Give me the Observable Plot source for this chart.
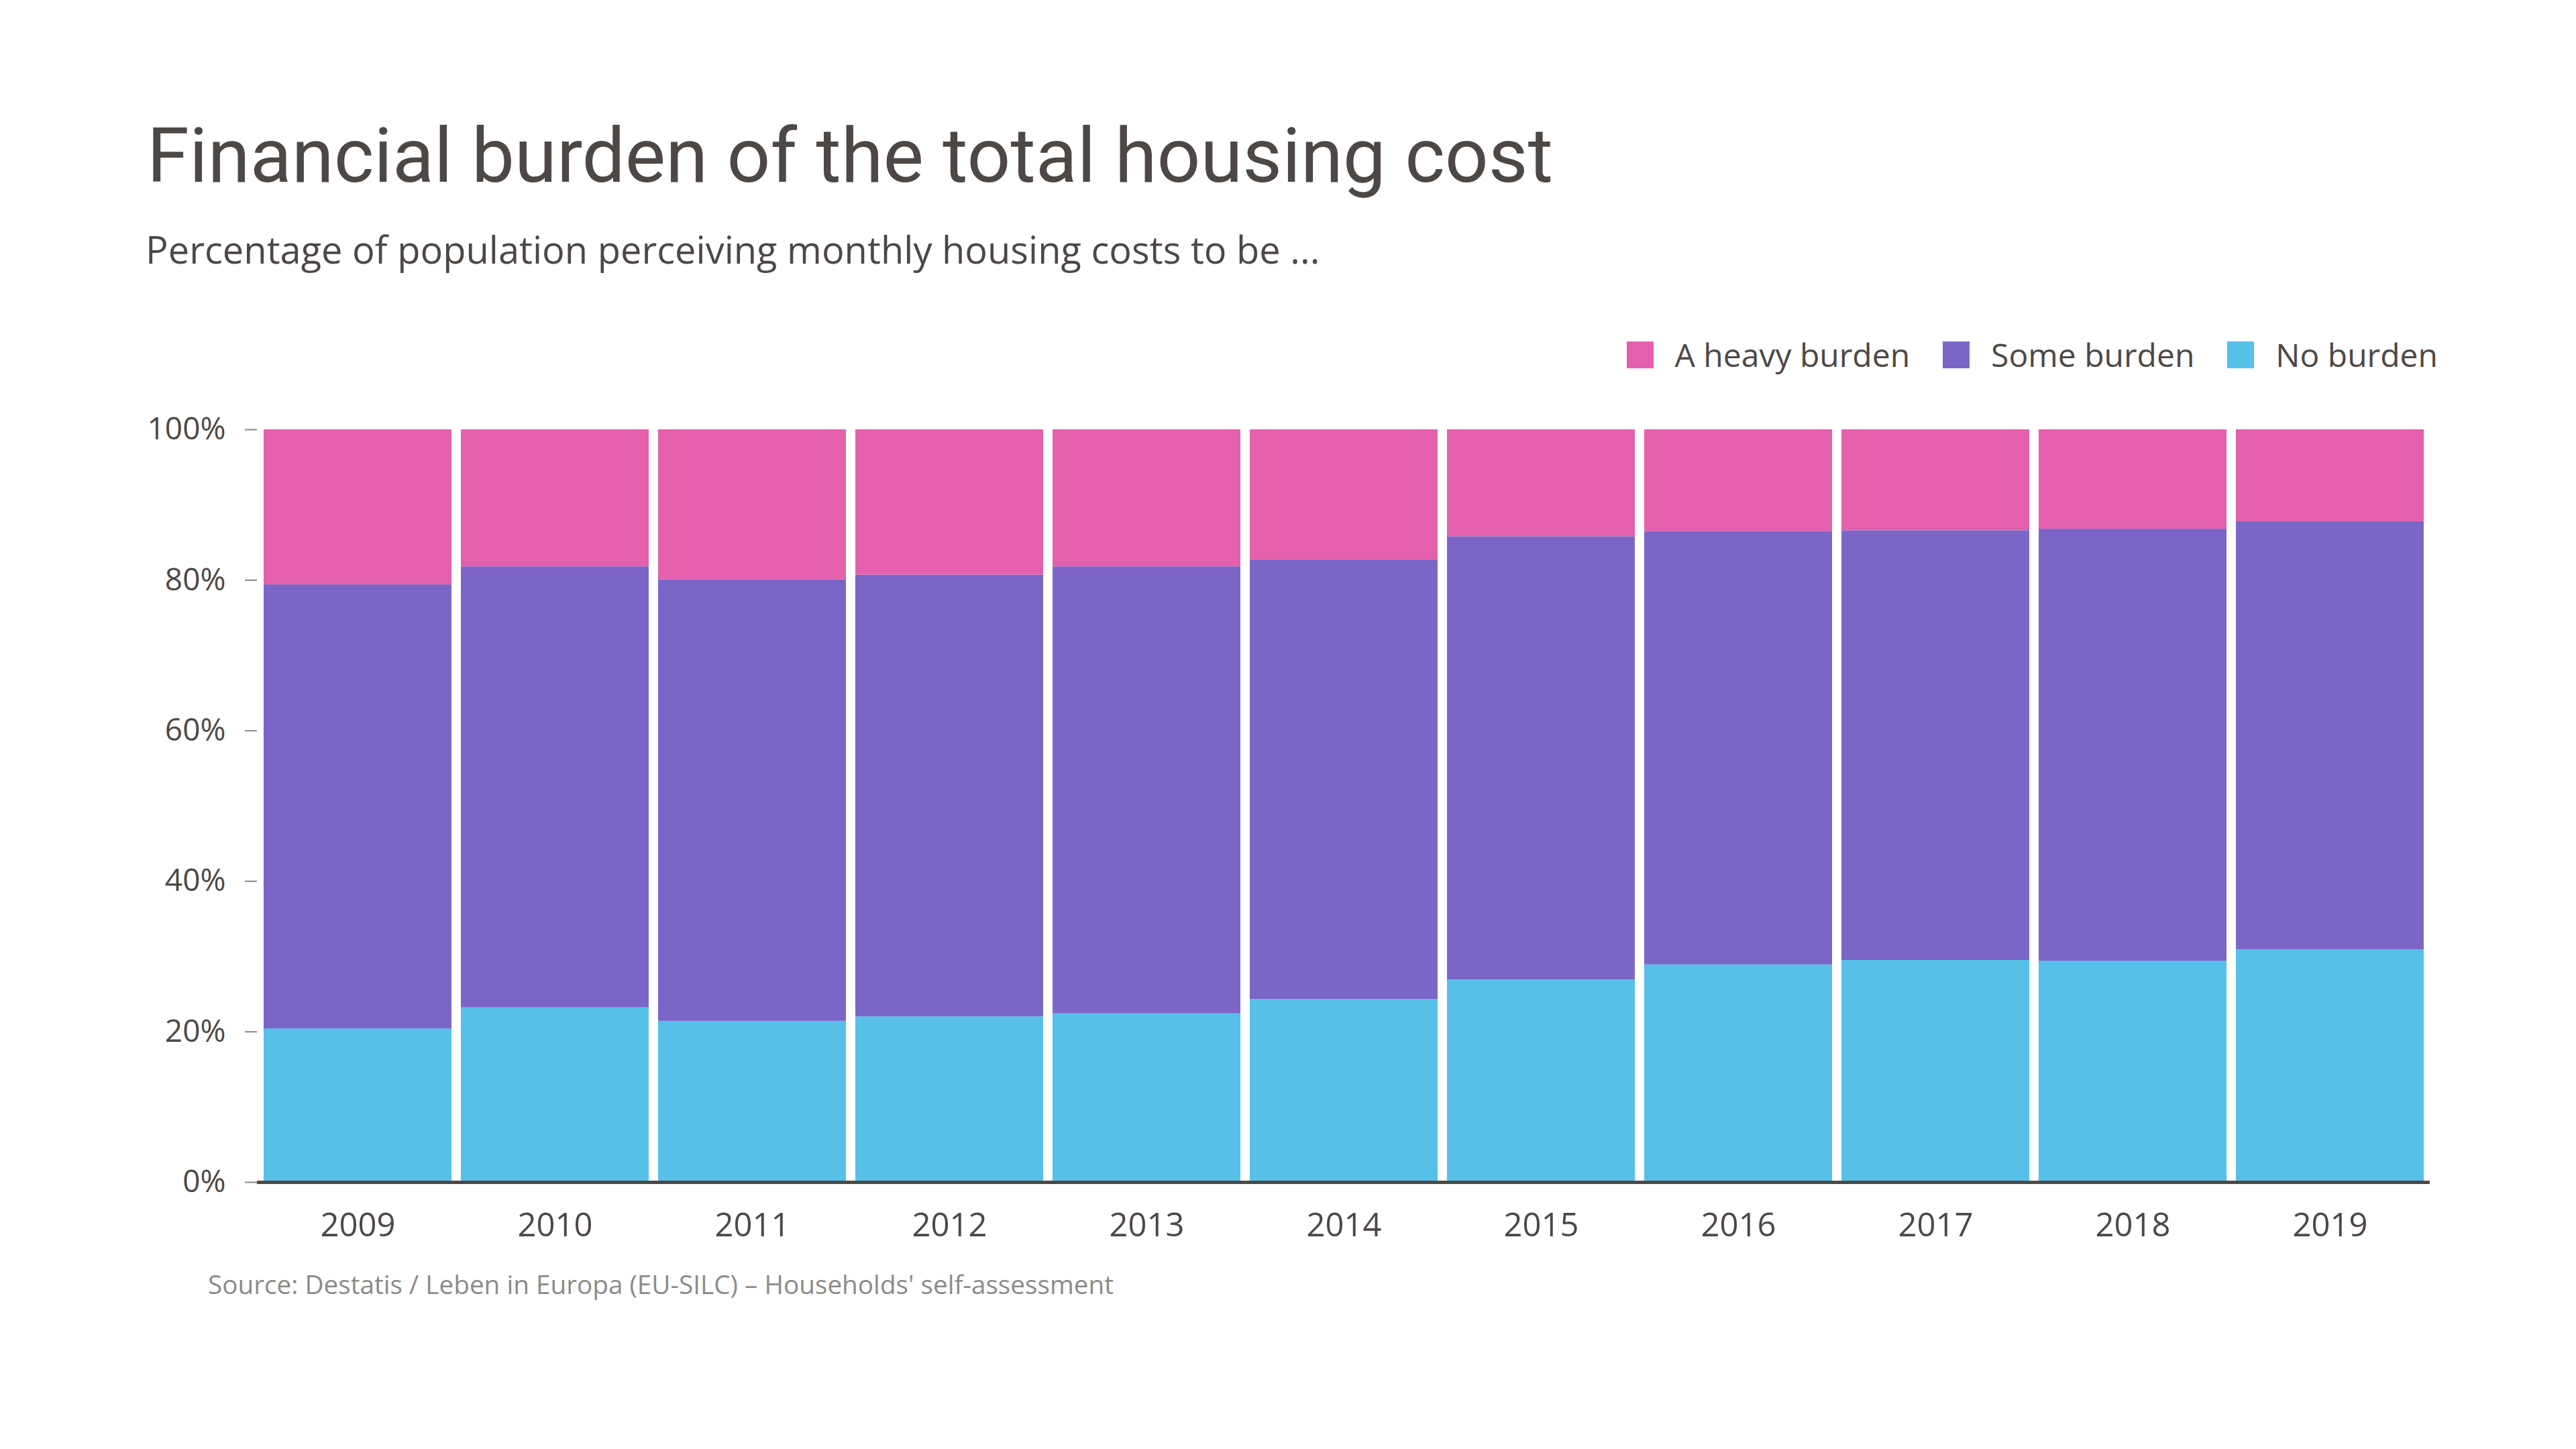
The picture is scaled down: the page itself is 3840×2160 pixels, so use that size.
<!DOCTYPE html>
<html>
<head>
<meta charset="utf-8">
<script src="https://cdn.jsdelivr.net/npm/d3@7"></script>
<script src="https://cdn.jsdelivr.net/npm/@observablehq/plot@0.6"></script>
<style>
  html, body { margin: 0; padding: 0; background: #ffffff; }
  #page { position: relative; width: 3840px; height: 2160px; background: #ffffff; overflow: hidden; }
  .abs { position: absolute; white-space: nowrap; line-height: 1; }
  #title { left: 219px; top: 175px; font-family: Roboto, sans-serif; font-size: 114px; color: #4d4845; font-weight: 400; }
  #subtitle { left: 217px; top: 343px; font-family: "Open Sans", sans-serif; font-size: 56px; color: #4d4845; }
  #legend { right: 206px; top: 505px; display: flex; align-items: center; font-family: "Open Sans", sans-serif; font-size: 48px; color: #4d4845; }
  #legend .item { display: flex; align-items: center; margin-left: 49px; }
  #legend .sw { width: 40px; height: 40px; margin-right: 32px; }
  #caption { left: 310px; top: 1895px; font-family: "Open Sans", sans-serif; font-size: 38.7px; color: #8c8a88; }
  #chart { position: absolute; left: 0; top: 560px; }
  #chart svg { overflow: visible; }
</style>
</head>
<body>
<div id="page">
  <div id="title" class="abs">Financial burden of the total housing cost</div>
  <div id="subtitle" class="abs">Percentage of population perceiving monthly housing costs to be ...</div>
  <div id="legend" class="abs"></div>
  <div id="chart"></div>
  <div id="caption" class="abs">Source: Destatis / Leben in Europa (EU-SILC) – Households' self-assessment</div>
</div>
<script>
const years = ["2009","2010","2011","2012","2013","2014","2015","2016","2017","2018","2019"];
const noBurden    = [20.4, 23.2, 21.4, 22.0, 22.4, 24.3, 26.9, 28.9, 29.5, 29.4, 30.9];
const someBurden  = [59.0, 58.6, 58.7, 58.7, 59.4, 58.4, 58.9, 57.6, 57.1, 57.4, 56.9];
const heavyBurden = [20.6, 18.2, 19.9, 19.3, 18.2, 17.3, 14.2, 13.5, 13.4, 13.2, 12.2];
const seriesNames = ["A heavy burden", "Some burden", "No burden"];
const seriesColors = ["#e460ad", "#7b66c8", "#56c0e9"];
const yTicks = [0, 20, 40, 60, 80, 100];

// Build long table: bottom-to-top stacking order (No, Some, Heavy)
const rows = [];
years.forEach((y, i) => {
  rows.push({year: y, series: "No burden", value: noBurden[i]});
  rows.push({year: y, series: "Some burden", value: someBurden[i]});
  rows.push({year: y, series: "A heavy burden", value: heavyBurden[i]});
});

// Legend
const legend = document.getElementById("legend");
seriesNames.forEach((name, i) => {
  const item = document.createElement("div");
  item.className = "item";
  if (i === 0) item.style.marginLeft = "0";
  const sw = document.createElement("div");
  sw.className = "sw";
  sw.style.background = seriesColors[i];
  const t = document.createElement("span");
  t.textContent = name;
  item.appendChild(sw);
  item.appendChild(t);
  legend.appendChild(item);
});

const textColor = "#4d4845";

const chart = Plot.plot({
  width: 3840,
  height: 1322,
  marginTop: 80,
  marginBottom: 120,
  marginLeft: 383,
  marginRight: 218,
  style: { fontFamily: "'Open Sans', sans-serif", fontSize: "46px", color: textColor, background: "transparent" },
  x: { type: "band", domain: years, paddingInner: 0.048, paddingOuter: 0.03 },
  y: { domain: [0, 100] },
  color: { domain: seriesNames, range: seriesColors },
  marks: [
    Plot.barY(rows, Plot.stackY({ order: null }, { x: "year", y: "value", fill: "series" })),
    Plot.axisY({ ticks: yTicks, tickFormat: d => d + "%", tickSize: 18, tickPadding: 29, stroke: "#8a8684", fill: textColor, strokeWidth: 2, label: null }),
    Plot.axisX({ tickSize: 0, tickPadding: 46, fill: textColor, fontSize: 49, label: null }),
    Plot.ruleY([0], { stroke: textColor, strokeWidth: 5 })
  ]
});
document.getElementById("chart").appendChild(chart);
</script>
</body>
</html>
